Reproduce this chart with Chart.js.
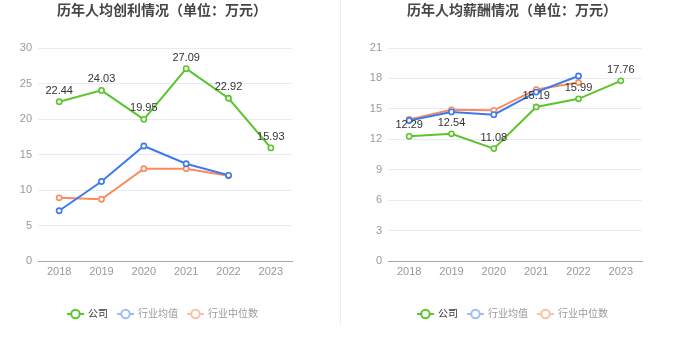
<!DOCTYPE html>
<html>
<head>
<meta charset="utf-8">
<script src="https://cdn.jsdelivr.net/npm/chart.js@4.4.0/dist/chart.umd.min.js"></script>
<style>
  html, body { margin: 0; padding: 0; background: #fff; }
  #wrap { position: relative; width: 680px; height: 349px; overflow: hidden; }
  canvas { position: absolute; top: 0; }
  #c1 { left: 0; }
  #c2 { left: 340px; }
  #sep { position: absolute; left: 340px; top: 0; width: 1px; height: 326px; background: #f0f0f0; }
</style>
</head>
<body>
<div id="wrap">
  <canvas id="c1" width="340" height="349"></canvas>
  <canvas id="c2" width="340" height="349"></canvas>
  <div id="sep"></div>
</div>
<script>
// Years on the category axis
const years = ['2018', '2019', '2020', '2021', '2022', '2023'];

// Per-capita profit (万元)
const profitCompany = [22.44, 24.03, 19.95, 27.09, 22.92, 15.93];
const profitIndustryAvg = [7.08, 11.2, 16.2, 13.7, 12.07, null];
const profitIndustryMedian = [8.9, 8.7, 13.0, 13.0, 12.0, null];
const profitAxisMax = 30;
const profitAxisStep = 5;

// Per-capita salary (万元)
const salaryCompany = [12.29, 12.54, 11.08, 15.19, 15.99, 17.76];
const salaryIndustryAvg = [13.85, 14.7, 14.43, 16.65, 18.24, null];
const salaryIndustryMedian = [13.95, 14.9, 14.86, 16.9, 17.6, null];
const salaryAxisMax = 21;
const salaryAxisStep = 3;

const seriesNames = ['公司', '行业均值', '行业中位数'];

const FONT = '"Liberation Sans", "Noto Sans CJK SC", sans-serif';
const GREEN = '#5cc42c';
const BLUE = '#3d7af0';
const ORANGE = '#fb8a5e';
const LEGEND_COLORS = [GREEN, '#9fbdf7', '#fcbfa8'];
const LEGEND_TEXT = ['#333333', '#999999', '#999999'];

function lineDataset(label, data, color) {
  return {
    label,
    data,
    borderColor: color,
    backgroundColor: color,
    borderWidth: 2,
    pointRadius: 2.6,
    pointBorderWidth: 1.6,
    pointBackgroundColor: '#fff',
    pointBorderColor: color,
    tension: 0,
    spanGaps: false
  };
}

// Title, value labels and legend drawn on the chart canvas
const decorPlugin = {
  id: 'decor',
  afterDatasetsDraw(chart, args, opts) {
    const ctx = chart.ctx;
    const meta = chart.getDatasetMeta(0);
    const values = chart.data.datasets[0].data;
    ctx.save();
    ctx.font = '11px ' + FONT;
    ctx.fillStyle = '#333';
    ctx.textAlign = 'center';
    ctx.textBaseline = 'middle';
    meta.data.forEach((pt, i) => {
      if (values[i] == null) return;
      ctx.fillText(values[i].toFixed(2), pt.x, pt.y - 11);
    });
    ctx.restore();
  },
  afterDraw(chart, args, opts) {
    const ctx = chart.ctx;
    ctx.save();
    // title
    ctx.font = 'bold 14px ' + FONT;
    ctx.fillStyle = '#464646';
    ctx.textAlign = 'center';
    ctx.textBaseline = 'middle';
    ctx.fillText(opts.title, opts.titleX, 11);

    // legend
    ctx.font = '10px ' + FONT;
    ctx.textAlign = 'left';
    let x = opts.legendX;
    const y = 314;
    seriesNames.forEach((name, i) => {
      const c = LEGEND_COLORS[i];
      ctx.strokeStyle = c;
      ctx.lineWidth = 2;
      ctx.beginPath();
      ctx.moveTo(x, y);
      ctx.lineTo(x + 17, y);
      ctx.stroke();
      ctx.beginPath();
      ctx.arc(x + 8.5, y, 4.2, 0, Math.PI * 2);
      ctx.fillStyle = '#fff';
      ctx.fill();
      ctx.stroke();
      ctx.fillStyle = LEGEND_TEXT[i];
      ctx.fillText(name, x + 21, y);
      x += 21 + ctx.measureText(name).width + 9;
    });
    ctx.restore();
  }
};

function buildChart(id, series, axisMax, axisStep, yWidth, padRight, title, titleX, legendX) {
  return new Chart(document.getElementById(id), {
    type: 'line',
    data: {
      labels: years,
      datasets: [
        lineDataset(seriesNames[0], series[0], GREEN),
        lineDataset(seriesNames[1], series[1], BLUE),
        lineDataset(seriesNames[2], series[2], ORANGE)
      ]
    },
    options: {
      responsive: false,
      animation: false,
      layout: { padding: { top: 48, bottom: 68, left: 0, right: padRight } },
      plugins: {
        legend: { display: false },
        title: { display: false },
        tooltip: { enabled: false },
        decor: { title, titleX, legendX }
      },
      scales: {
        x: {
          offset: true,
          grid: { display: false, drawTicks: false },
          border: { display: true, color: '#a8a8a8', width: 1 },
          ticks: { color: '#999', font: { size: 11, family: FONT }, padding: 4, maxRotation: 0 },
          afterFit(s) { s.height = 20; }
        },
        y: {
          min: 0,
          max: axisMax,
          grid: { color: '#e6ebf5', drawTicks: false, lineWidth: 1 },
          border: { display: false },
          ticks: { stepSize: axisStep, color: '#999', font: { size: 11, family: FONT }, padding: 6 },
          afterFit(s) { s.width = yWidth; }
        }
      }
    },
    plugins: [decorPlugin]
  });
}

buildChart('c1', [profitCompany, profitIndustryAvg, profitIndustryMedian],
  profitAxisMax, profitAxisStep, 38, 48,
  '历年人均创利情况（单位：万元）', 162, 67);

buildChart('c2', [salaryCompany, salaryIndustryAvg, salaryIndustryMedian],
  salaryAxisMax, salaryAxisStep, 48, 38,
  '历年人均薪酬情况（单位：万元）', 172, 77);
</script>
</body>
</html>
